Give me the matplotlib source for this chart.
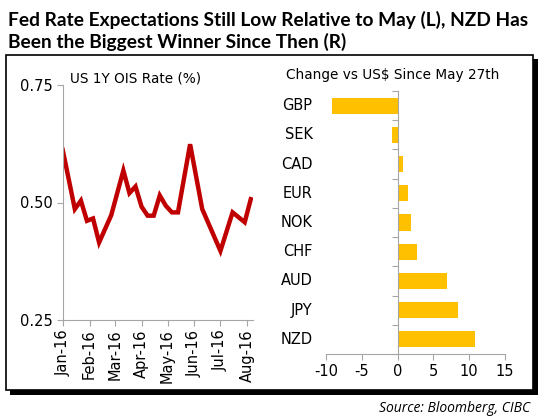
import pandas as pd
import matplotlib
matplotlib.use("Agg")
import matplotlib.pyplot as plt
import matplotlib.dates as mdates
import matplotlib.transforms as mtransforms
from matplotlib.patches import Rectangle

# left panel: US 1Y OIS rate, weekly (Fridays), vertices
ois_dates = ["2016-01-01", "2016-01-15", "2016-01-22", "2016-01-29", "2016-02-05",
             "2016-02-12", "2016-02-26", "2016-03-11", "2016-03-18", "2016-03-25",
             "2016-04-01", "2016-04-08", "2016-04-15", "2016-04-22", "2016-04-29",
             "2016-05-06", "2016-05-13", "2016-05-27", "2016-06-10", "2016-07-01",
             "2016-07-15", "2016-07-29", "2016-08-05"]
ois_rate = [0.612, 0.486, 0.504, 0.461, 0.466,
            0.415, 0.473, 0.568, 0.520, 0.534,
            0.491, 0.472, 0.472, 0.515, 0.493,
            0.479, 0.479, 0.624, 0.486, 0.397,
            0.479, 0.458, 0.507]

# right panel: change vs US$ since May 27th (%)
currencies = ["GBP", "SEK", "CAD", "EUR", "NOK", "CHF", "AUD", "JPY", "NZD"]
fx_change = [-9.1, -0.8, 0.7, 1.4, 1.9, 2.65, 6.9, 8.5, 10.75]

RED = "#C00000"
GOLD = "#FFC000"
GREY = "#A6A6A6"
W, H = 542, 418

fig = plt.figure(figsize=(W / 100, H / 100), dpi=100)
fig.patch.set_facecolor("white")

def fx(px):
    return px / W

def fy(py):
    return 1 - py / H

# title
fig.text(fx(8), fy(19.5), "Fed Rate Expectations Still Low Relative to May (L), NZD Has",
         fontfamily="Lato", fontweight="bold", fontsize=13.8, va="center", ha="left")
fig.text(fx(8), fy(41.5), "Been the Biggest Winner Since Then (R)",
         fontfamily="Lato", fontweight="bold", fontsize=13.8, va="center", ha="left")

# framed box with drop shadow
fig.add_artist(Rectangle((fx(10), fy(395)), fx(528), 1 - fy(336), transform=fig.transFigure,
                         facecolor="black", edgecolor="none", zorder=0))
fig.add_artist(Rectangle((fx(6), fy(390)), fx(527), 1 - fy(335), transform=fig.transFigure,
                         facecolor="white", edgecolor="black", linewidth=1.2, zorder=0.5))

TICKFONT = "DejaVu Sans"

# ---- left panel
ax1 = fig.add_axes([fx(62.7), fy(320), fx(252.5 - 62.7), fy(85) - fy(320)])
ax1.set_zorder(2)
ax1.set_facecolor("none")
dates = pd.to_datetime(ois_dates)
ax1.plot(dates, ois_rate, color=RED, linewidth=3.2, solid_joinstyle="miter")
ax1.set_ylim(0.25, 0.75)
ax1.set_yticks([0.25, 0.5, 0.75])
ax1.set_yticklabels(["0.25", "0.50", "0.75"])
ax1.set_xlim(pd.Timestamp("2016-01-01"), pd.Timestamp("2016-08-07"))
ax1.xaxis.set_major_locator(mdates.MonthLocator())
ax1.xaxis.set_major_formatter(mdates.DateFormatter("%b-%y"))
for s in ["top", "right"]:
    ax1.spines[s].set_visible(False)
for s in ["left", "bottom"]:
    ax1.spines[s].set_color(GREY)
ax1.tick_params(axis="both", color=GREY, length=4, labelsize=10.5)
ax1.tick_params(axis="x", rotation=90, pad=3)
ax1.tick_params(axis="y", pad=3)
for lab in ax1.get_xticklabels() + ax1.get_yticklabels():
    lab.set_fontfamily(TICKFONT)
fig.text(fx(70), fy(78), "US 1Y OIS Rate (%)", fontfamily=TICKFONT, fontsize=9.8,
         va="center", ha="left", zorder=3)

# ---- right panel
ax2 = fig.add_axes([fx(326), fy(354), fx(505 - 326), fy(91) - fy(354)])
ax2.set_zorder(2)
ax2.set_facecolor("none")
ypos = list(range(len(currencies)))
ax2.barh(ypos, fx_change, height=0.55, color=GOLD, zorder=2)
ax2.set_ylim(len(currencies) - 0.5, -0.5)
ax2.set_xlim(-10, 15)
ax2.set_xticks([-10, -5, 0, 5, 10, 15])
ax2.set_xticklabels(["-10", "-5", "0", "5", "10", "15"])
ax2.spines["left"].set_position(("data", 0))
ax2.set_yticks([i - 0.5 for i in range(len(currencies) + 1)])
ax2.set_yticklabels([])
for s in ["top", "right"]:
    ax2.spines[s].set_visible(False)
for s in ["left", "bottom"]:
    ax2.spines[s].set_color(GREY)
ax2.spines["left"].set_zorder(3)
ax2.tick_params(axis="both", color=GREY, length=4, labelsize=10.5)
for lab in ax2.get_xticklabels():
    lab.set_fontfamily(TICKFONT)
trans = mtransforms.blended_transform_factory(ax2.transAxes, ax2.transData)
for i, name in enumerate(currencies):
    ax2.text(-0.075, i, name, transform=trans, ha="right", va="center",
             fontfamily=TICKFONT, fontsize=10.5)
fig.text(fx(286), fy(75), "Change vs US$ Since May 27th", fontfamily=TICKFONT, fontsize=9.8,
         va="center", ha="left", zorder=3)

fig.text(fx(530), fy(409), "Source: Bloomberg, CIBC", fontfamily="Open Sans", fontstyle="italic",
         fontsize=10, ha="right", va="center")

fig.savefig("out.png", dpi=100)
